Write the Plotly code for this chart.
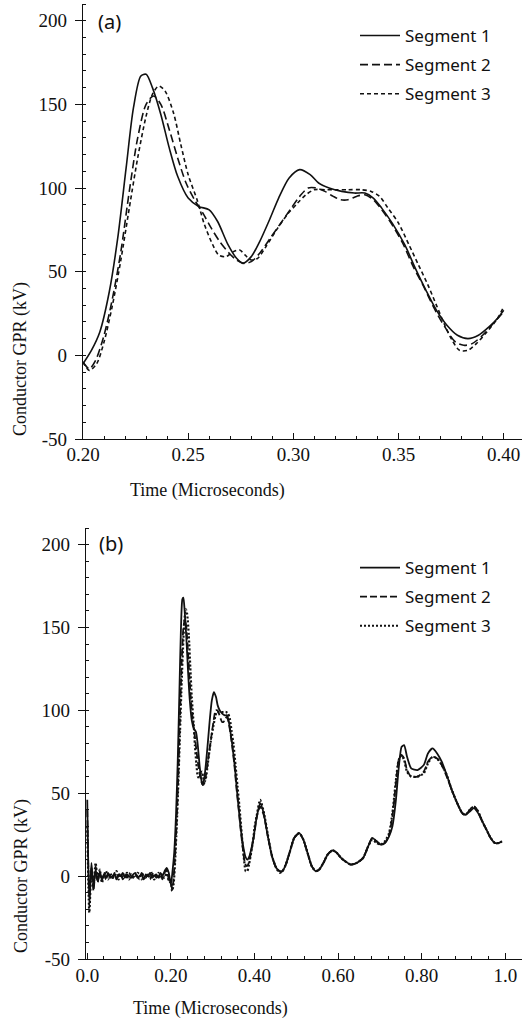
import plotly.graph_objects as go

# ---------------- Panel (a): 0.20 - 0.40 us ----------------
s1_t = [0.200, 0.204, 0.208, 0.2125, 0.2165, 0.2205, 0.224, 0.2275, 0.230, 0.233,
        0.237, 0.241, 0.245, 0.250, 0.255, 0.260, 0.264, 0.269, 0.273, 0.276,
        0.280, 0.284, 0.289, 0.293, 0.298, 0.303, 0.308, 0.312, 0.317, 0.323,
        0.329, 0.334, 0.338, 0.342, 0.347, 0.353, 0.358, 0.363, 0.368, 0.373,
        0.378, 0.383, 0.388, 0.393, 0.397, 0.400]
s1_v = [-5, 3, 14, 38, 70, 112, 148, 167, 168, 160,
        144, 124, 107, 94, 89, 87, 80, 66, 58, 55,
        59, 68, 82, 94, 106, 111, 108, 103, 100, 98,
        97, 97, 94, 88, 79, 66, 52, 39, 27, 18,
        12, 10, 12, 17, 22, 27]

s2_t = [0.200, 0.203, 0.206, 0.210, 0.214, 0.218, 0.222, 0.226, 0.230, 0.2335,
        0.237, 0.241, 0.245, 0.249, 0.253, 0.257, 0.261, 0.265, 0.2695, 0.273,
        0.2765, 0.280, 0.284, 0.289, 0.294, 0.299, 0.303, 0.307, 0.311, 0.315,
        0.319, 0.3225, 0.326, 0.330, 0.334, 0.338, 0.342, 0.347, 0.352, 0.357,
        0.362, 0.367, 0.372, 0.377, 0.381, 0.385, 0.390, 0.395, 0.400]
s2_v = [-4, -8, -3, 12, 34, 62, 98, 130, 150, 155,
        150, 135, 118, 103, 93, 85, 76, 68, 61, 57,
        55, 56, 61, 70, 79, 88, 95, 100, 100, 98,
        95, 93, 93, 95, 96, 93, 87, 78, 67, 53,
        41, 28, 17, 8, 6, 7, 12, 19, 26]

s3_t = [0.200, 0.203, 0.2065, 0.210, 0.214, 0.218, 0.222, 0.226, 0.230, 0.233,
        0.236, 0.239, 0.243, 0.2465, 0.250, 0.2545, 0.2575, 0.261, 0.2645, 0.268,
        0.2715, 0.2745, 0.277, 0.280, 0.283, 0.287, 0.292, 0.297, 0.302, 0.306,
        0.310, 0.315, 0.320, 0.326, 0.332, 0.337, 0.341, 0.345, 0.350, 0.355,
        0.3595, 0.364, 0.368, 0.372, 0.3755, 0.379, 0.383, 0.387, 0.392, 0.397,
        0.400]
s3_v = [-4, -9, -5, 8, 30, 57, 88, 118, 143, 156,
        161, 158, 145, 126, 108, 92, 79, 68, 60, 59,
        62, 63, 60, 57, 58, 65, 75, 84, 91, 96,
        99, 99, 99, 99, 99, 98, 95, 88, 79, 66,
        54, 42, 30, 18, 9, 3, 3, 7, 14, 22,
        29]

# ---------------- Panel (b): extra parts 0.0-0.2 and 0.4-1.0 us ----------------
early_t = [0.000, 0.005, 0.010, 0.015, 0.020, 0.025, 0.030, 0.035, 0.040, 0.045,
           0.050, 0.055, 0.060, 0.065, 0.070, 0.075, 0.080, 0.085, 0.090, 0.095,
           0.100, 0.105, 0.110, 0.115, 0.120, 0.125, 0.130, 0.135, 0.140, 0.145,
           0.150, 0.155, 0.160, 0.165, 0.170, 0.175, 0.180, 0.185, 0.190, 0.195]
s1_early = [46, -18, 8, -7, 4, -3, 2, -2, 1, -1, 2, -1, 0, 1, -2, 1, 0, 2, -1, 1,
            0, -1, 1, 2, -1, 0, 1, -2, 1, 0, 2, -1, 0, 1, -1, 2, 0, 3, 5, 2]
s2_early = [40, -12, 5, -9, 6, -4, 3, -3, 2, -2, 1, 0, -2, 2, -1, 0, 2, -2, 1, -1,
            2, 0, -1, 1, 0, -2, 2, 0, -1, 1, -2, 1, 2, -1, 0, 1, -2, 2, 4, -2]
s3_early = [30, -22, 3, -5, 8, -2, 4, -4, 0, 3, -2, 2, -1, 0, 3, -2, 1, -1, 0, 2,
            -2, 1, 0, -1, 2, 1, -2, 1, 0, -1, 1, 2, -2, 0, 2, -1, 1, -1, 3, -3]

late_t = [0.405, 0.4135, 0.422, 0.432, 0.442, 0.452, 0.460, 0.467, 0.475, 0.485,
          0.495, 0.507, 0.517, 0.527, 0.537, 0.547, 0.555, 0.565, 0.575, 0.587,
          0.597, 0.607, 0.617, 0.630, 0.645, 0.660, 0.672, 0.682, 0.692, 0.702,
          0.712, 0.722, 0.730, 0.738, 0.745, 0.752, 0.758, 0.765, 0.775, 0.790,
          0.805, 0.815, 0.826, 0.837, 0.848, 0.860, 0.872, 0.885, 0.897, 0.905,
          0.915, 0.925, 0.935, 0.945, 0.955, 0.965, 0.975, 0.985, 0.992]
s1_late = [35, 44, 38, 24, 12, 5, 3, 3, 7, 15, 23, 26, 22, 14, 6, 3, 4, 8, 13, 15.5,
           14, 11, 9, 7, 8, 11, 18, 23, 21, 19, 20, 24, 30, 45, 65, 78, 79, 72, 65, 64,
           67, 74, 77, 74, 69, 61, 52, 44, 38, 37, 39, 41, 38, 33, 28, 23, 20, 20, 21]
s2_late = [35, 42, 37, 24, 12, 5, 3, 3, 7, 15, 23, 26, 22, 14, 6, 3, 4, 8, 13, 15.5,
           14, 11, 9, 7, 8, 11, 18, 23, 21, 19, 20, 25, 36, 55, 70, 73, 71, 64, 60, 60,
           63, 69, 72, 71, 67, 60, 52, 44, 38, 37, 40, 42, 39, 33, 28, 23, 20, 20, 21]
s3_late = [36, 46, 39, 25, 12, 5, 2, 3, 7, 15, 23, 26, 22, 14, 6, 3, 4, 8, 13, 15.5,
           14, 11, 9, 7, 8, 11, 18, 22, 20, 19, 21, 26, 38, 57, 70, 73, 70, 63, 60, 60,
           62, 68, 72, 71, 67, 61, 52, 44, 38, 37, 40, 42, 39, 33, 28, 23, 20, 20, 21]

names = ["Segment 1", "Segment 2", "Segment 3"]
x_ticks_a = [0.20, 0.25, 0.30, 0.35, 0.40]
x_text_a = ["0.20", "0.25", "0.30", "0.35", "0.40"]
x_ticks_b = [0.0, 0.2, 0.4, 0.6, 0.8, 1.0]
x_text_b = ["0.0", "0.20", "0.40", "0.60", "0.80", "1.0"]
y_ticks = [-50, 0, 50, 100, 150, 200]
y_text = ["-50", "0", "50", "100", "150", "200"]

W, H = 526, 1021
SERIF = "Liberation Serif, Tinos, Times New Roman, Times, DejaVu Serif, serif"
SANS = "Noto Sans, DejaVu Sans, sans-serif"
INK = "#111111"

dash_a = ["solid", "8px,4px", "4px,3px"]
dash_b = ["solid", "7px,3px", "2px,2px"]
width_a = [1.6, 1.6, 1.6]
width_b = [1.8, 1.8, 2.2]

top = [(s1_t, s1_v), (s2_t, s2_v), (s3_t, s3_v)]
early = [s1_early, s2_early, s3_early]
late = [s1_late, s2_late, s3_late]

fig = go.Figure()
for i, (t, v) in enumerate(top):
    fig.add_trace(go.Scatter(
        x=t, y=v, mode="lines", name=names[i], legendgroup="a%d" % i,
        line=dict(color=INK, width=width_a[i], dash=dash_a[i], shape="spline", smoothing=0.8),
        xaxis="x", yaxis="y", legend="legend"))
for i, (t, v) in enumerate(top):
    bt = early_t + t + late_t
    bv = early[i] + v + late[i]
    fig.add_trace(go.Scatter(
        x=bt, y=bv, mode="lines", name=names[i], legendgroup="b%d" % i,
        line=dict(color=INK, width=width_b[i], dash=dash_b[i], shape="spline", smoothing=0.6),
        xaxis="x2", yaxis="y2", legend="legend2"))

def px_x(p):
    return p / W

def px_y(p):
    return 1 - p / H

axis_common = dict(showline=True, linecolor=INK, linewidth=1.2, showgrid=False,
                   zeroline=False, mirror=False, tickcolor=INK, automargin=False,
                   tickfont=dict(family=SERIF, size=19, color=INK))

fig.update_layout(
    template="none",
    font=dict(family=SERIF, color=INK),
    width=W, height=H,
    margin=dict(l=0, r=0, t=0, b=0, autoexpand=False),
    paper_bgcolor="white", plot_bgcolor="white",
    xaxis=dict(domain=[px_x(83), px_x(522)], anchor="y", range=[0.2, 0.4087],
               tickvals=x_ticks_a, ticktext=x_text_a, ticks="inside", ticklen=6,
               ticklabelstandoff=-2,
               minor=dict(dtick=0.01, tick0=0, ticks="inside", ticklen=3, tickcolor=INK),
               **axis_common),
    yaxis=dict(domain=[px_y(439), px_y(4)], anchor="x", range=[-50, 210],
               tickvals=y_ticks, ticktext=y_text, ticks="outside", ticklen=7,
               ticklabelstandoff=4,
               minor=dict(dtick=10, tick0=0, ticks="inside", ticklen=3, tickcolor=INK),
               **axis_common),
    xaxis2=dict(domain=[px_x(86), px_x(522)], anchor="y2", range=[-0.003, 1.04],
                tickvals=x_ticks_b, ticktext=x_text_b, ticks="inside", ticklen=6,
                ticklabelstandoff=-1,
                minor=dict(dtick=0.04, tick0=0, ticks="inside", ticklen=3, tickcolor=INK),
                **axis_common),
    yaxis2=dict(domain=[px_y(959), px_y(528)], anchor="x2", range=[-50, 210],
                tickvals=y_ticks, ticktext=y_text, ticks="outside", ticklen=7,
                ticklabelstandoff=4,
                minor=dict(dtick=10, tick0=0, ticks="inside", ticklen=3, tickcolor=INK),
                **axis_common),
    legend=dict(x=px_x(355), y=px_y(18), xanchor="left", yanchor="top",
                font=dict(family=SANS, size=17, color=INK), bgcolor="rgba(0,0,0,0)",
                itemwidth=40, tracegroupgap=4, traceorder="grouped"),
    legend2=dict(x=px_x(355), y=px_y(550), xanchor="left", yanchor="top",
                 font=dict(family=SANS, size=17, color=INK), bgcolor="rgba(0,0,0,0)",
                 itemwidth=40, tracegroupgap=4, traceorder="grouped"),
    annotations=[
        dict(text="(a)", x=px_x(96), y=px_y(21), xref="paper", yref="paper",
             xanchor="left", yanchor="middle", showarrow=False,
             font=dict(family=SANS, size=20, color=INK)),
        dict(text="(b)", x=px_x(97), y=px_y(543), xref="paper", yref="paper",
             xanchor="left", yanchor="middle", showarrow=False,
             font=dict(family=SANS, size=20, color=INK)),
        dict(text="Conductor GPR (kV)", x=px_x(20), y=px_y(359), xref="paper", yref="paper",
             xanchor="center", yanchor="middle", textangle=-90, showarrow=False,
             font=dict(family=SERIF, size=18, color=INK)),
        dict(text="Conductor GPR (kV)", x=px_x(21), y=px_y(876), xref="paper", yref="paper",
             xanchor="center", yanchor="middle", textangle=-90, showarrow=False,
             font=dict(family=SERIF, size=18, color=INK)),
        dict(text="Time (Microseconds)", x=px_x(207), y=px_y(490), xref="paper", yref="paper",
             xanchor="center", yanchor="middle", showarrow=False,
             font=dict(family=SERIF, size=18, color=INK)),
        dict(text="Time (Microseconds)", x=px_x(210), y=px_y(1008), xref="paper", yref="paper",
             xanchor="center", yanchor="middle", showarrow=False,
             font=dict(family=SERIF, size=18, color=INK)),
    ],
)

fig.write_html("out.html")
